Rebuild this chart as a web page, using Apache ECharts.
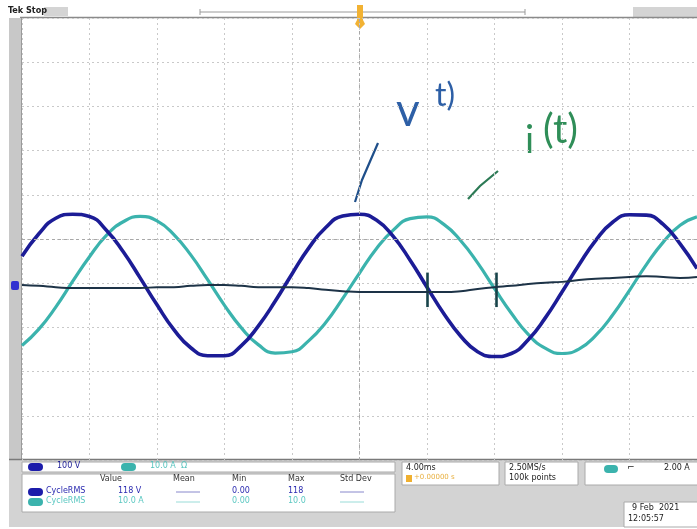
<!DOCTYPE html>
<html>
<head>
<meta charset="utf-8">
<script src="https://cdn.jsdelivr.net/npm/echarts@6/dist/echarts.min.js"></script>
<style>
  html, body { margin: 0; padding: 0; background: #fff; }
  #chart { width: 697px; height: 529px; }
</style>
</head>
<body>
<div id="chart"></div>
<script>
// 时间轴 (ms), 4.00 ms/div, 10 格
const timeMs = [-20,-19,-18,-17,-16,-15,-14,-13,-12,-11,-10,-9,-8,-7,-6,-5,-4,-3,-2,-1,0,
  1,2,3,4,5,6,7,8,9,10,11,12,13,14,15,16,17,18,19,20];
// 通道1 电压 (V), 100 V/div
const voltage = [65,116,151,160,155,124,75,16,-45,-101,-142,-160,-160,-137,-93,-37,25,84,130,156,160,
  147,110,56,-5,-65,-116,-151,-162,-155,-124,-75,-16,45,101,142,159,158,137,93,37];
// 通道2 电流 (A), 10.0 A/div
const current = [-13.7,-10.0,-5.0,0.8,6.4,11.2,14.3,15.5,14.5,11.4,6.8,1.2,-4.6,-9.7,-13.5,-15.4,-15.1,-12.6,-8.5,-3.1,2.7,
  8.2,12.4,15.0,15.4,13.7,10.0,5.0,-0.8,-6.4,-11.2,-14.3,-15.5,-14.5,-11.4,-6.8,-1.2,4.6,9.7,13.5,15.4];
// 深色参考线 (div)
const refTrace = [0,-0.02,-0.05,-0.07,-0.07,-0.07,-0.07,-0.07,-0.05,-0.05,-0.02,0,0,-0.02,-0.05,-0.05,-0.05,-0.07,-0.11,-0.14,-0.16,
  -0.16,-0.16,-0.16,-0.16,-0.16,-0.14,-0.09,-0.05,-0.02,0.02,0.05,0.07,0.11,0.14,0.16,0.18,0.2,0.18,0.16,0.18];
// 手写标记的位置 (ms)
const markTimes = [4.0, 8.1];

const voltsPerDiv = 100;
const ampsPerDiv = 10;
const zeroOffset = -1.04; // 通道零点相对中心 (div)

const toDiv = (arr, scale) => arr.map((v, i) => [timeMs[i], v / scale + zeroOffset]);

const chart = echarts.init(document.getElementById('chart'));

const gridLine = { show: true, lineStyle: { color: '#c9c9c9', type: [2, 3], width: 1 } };
const small = '8px "DejaVu Sans", sans-serif';
const hand = '{size}px Lato, "Open Sans", sans-serif';

const option = {
  backgroundColor: '#ffffff',
  animation: false,
  grid: { left: 22, right: -5, top: 18, bottom: 69 },
  xAxis: {
    type: 'value', min: -20, max: 20, interval: 4,
    axisLabel: { show: false }, axisTick: { show: false },
    axisLine: { show: false },
    splitLine: gridLine
  },
  yAxis: {
    type: 'value', min: -5, max: 5, interval: 1,
    axisLabel: { show: false }, axisTick: { show: false },
    axisLine: { show: false },
    splitLine: gridLine
  },
  series: [
    {
      // 中心十字线
      type: 'line', data: [], silent: true,
      markLine: {
        symbol: 'none', silent: true, label: { show: false },
        lineStyle: { color: '#a8a8a8', type: [3, 3], width: 1 },
        data: [{ xAxis: 0 }, { yAxis: 0 }]
      }
    },
    {
      name: 'i(t)', type: 'line', smooth: 0.5, showSymbol: false,
      data: toDiv(current, ampsPerDiv),
      lineStyle: { color: '#3bb3ad', width: 3.2 }, z: 3
    },
    {
      name: 'v(t)', type: 'line', smooth: 0.5, showSymbol: false,
      data: toDiv(voltage, voltsPerDiv),
      lineStyle: { color: '#1c1c96', width: 3.6 }, z: 4
    },
    {
      name: 'ref', type: 'line', smooth: 0.5, showSymbol: false,
      data: refTrace.map((v, i) => [timeMs[i], v + zeroOffset]),
      lineStyle: { color: '#1d3347', width: 2 }, z: 5,
      markLine: {
        symbol: 'none', silent: true, label: { show: false },
        lineStyle: { color: '#17434a', type: 'solid', width: 2.6 },
        data: markTimes.map(t => [
          { coord: [t, zeroOffset + 0.28] },
          { coord: [t, zeroOffset - 0.5] }
        ])
      }
    }
  ],
  graphic: [
    // 上方状态栏
    { type: 'rect', shape: { x: 44, y: 7, width: 24, height: 9 }, style: { fill: '#d4d4d4' } },
    { type: 'text', left: 8, top: 6, style: { text: 'Tek Stop', font: 'bold 9px "DejaVu Sans Condensed", sans-serif', fill: '#222' } },
    { type: 'rect', shape: { x: 633, y: 7, width: 64, height: 10 }, style: { fill: '#d4d4d4' } },
    { type: 'line', shape: { x1: 20, y1: 17.5, x2: 697, y2: 17.5 }, style: { stroke: '#8a8a8a', lineWidth: 1.5 } },
    { type: 'line', shape: { x1: 200, y1: 12, x2: 525, y2: 12 }, style: { stroke: '#9a9a9a', lineWidth: 1 } },
    { type: 'line', shape: { x1: 200, y1: 9, x2: 200, y2: 15 }, style: { stroke: '#9a9a9a', lineWidth: 1 } },
    { type: 'line', shape: { x1: 525, y1: 9, x2: 525, y2: 15 }, style: { stroke: '#9a9a9a', lineWidth: 1 } },
    { type: 'polygon', shape: { points: [[357, 5], [363, 5], [363, 20], [365, 24], [360, 29], [355, 24], [357, 20]] }, style: { fill: '#f2b233' } },
    // 左侧灰条
    { type: 'rect', shape: { x: 9, y: 18, width: 12, height: 442 }, style: { fill: '#c8c8c8' } },
    { type: 'rect', shape: { x: 11, y: 281, width: 8, height: 9, r: 2 }, style: { fill: '#3030d0' } },
    { type: 'line', shape: { x1: 21.5, y1: 18, x2: 21.5, y2: 460 }, style: { stroke: '#9a9a9a', lineWidth: 1 } },
    // 手写注释
    { type: 'polyline', shape: { points: [[355, 202], [362, 180], [378, 143]] }, style: { stroke: '#1f4f8a', lineWidth: 2.2, fill: null } },
    { type: 'text', left: 396, top: 88, style: { text: 'v', font: hand.replace('{size}', 46), fill: '#2d5fa6' } },
    { type: 'text', left: 435, top: 80, style: { text: 't)', font: hand.replace('{size}', 32), fill: '#2d5fa6' } },
    { type: 'polyline', shape: { points: [[468, 199], [480, 186], [498, 171]] }, style: { stroke: '#2c7a55', lineWidth: 2.2, fill: null } },
    { type: 'text', left: 525, top: 122, style: { text: 'i', font: hand.replace('{size}', 38), fill: '#2f8e58' } },
    { type: 'text', left: 543, top: 110, style: { text: '(t)', font: hand.replace('{size}', 40), fill: '#2f8e58' } },
    // 底部面板
    { type: 'rect', shape: { x: 9, y: 460, width: 688, height: 67 }, style: { fill: '#d3d3d3' } },
    { type: 'line', shape: { x1: 9, y1: 459.5, x2: 697, y2: 459.5 }, style: { stroke: '#7a7a7a', lineWidth: 1.5 } },
    { type: 'rect', shape: { x: 22, y: 462, width: 373, height: 10 }, style: { fill: '#fff', stroke: '#aaa' } },
    { type: 'rect', shape: { x: 28, y: 463, width: 15, height: 8, r: 4 }, style: { fill: '#1c1caa' } },
    { type: 'text', left: 57, top: 462, style: { text: '100 V', font: small, fill: '#1c1c96' } },
    { type: 'rect', shape: { x: 121, y: 463, width: 15, height: 8, r: 4 }, style: { fill: '#3bb3ad' } },
    { type: 'text', left: 150, top: 462, style: { text: '10.0 A  Ω', font: small, fill: '#57c4be' } },
    { type: 'rect', shape: { x: 22, y: 474, width: 373, height: 38 }, style: { fill: '#fff', stroke: '#aaa' } },
    { type: 'text', left: 100, top: 475, style: { text: 'Value', font: small, fill: '#333' } },
    { type: 'text', left: 173, top: 475, style: { text: 'Mean', font: small, fill: '#333' } },
    { type: 'text', left: 232, top: 475, style: { text: 'Min', font: small, fill: '#333' } },
    { type: 'text', left: 288, top: 475, style: { text: 'Max', font: small, fill: '#333' } },
    { type: 'text', left: 340, top: 475, style: { text: 'Std Dev', font: small, fill: '#333' } },
    { type: 'rect', shape: { x: 28, y: 488, width: 15, height: 8, r: 4 }, style: { fill: '#1c1caa' } },
    { type: 'text', left: 46, top: 487, style: { text: 'CycleRMS', font: small, fill: '#2a2ab0' } },
    { type: 'text', left: 118, top: 487, style: { text: '118 V', font: small, fill: '#2a2ab0' } },
    { type: 'text', left: 232, top: 487, style: { text: '0.00', font: small, fill: '#2a2ab0' } },
    { type: 'text', left: 288, top: 487, style: { text: '118', font: small, fill: '#2a2ab0' } },
    { type: 'line', shape: { x1: 176, y1: 492, x2: 200, y2: 492 }, style: { stroke: '#8888cc', lineWidth: 1 } },
    { type: 'line', shape: { x1: 340, y1: 492, x2: 364, y2: 492 }, style: { stroke: '#8888cc', lineWidth: 1 } },
    { type: 'rect', shape: { x: 28, y: 498, width: 15, height: 8, r: 4 }, style: { fill: '#3bb3ad' } },
    { type: 'text', left: 46, top: 497, style: { text: 'CycleRMS', font: small, fill: '#5cc8c2' } },
    { type: 'text', left: 118, top: 497, style: { text: '10.0 A', font: small, fill: '#5cc8c2' } },
    { type: 'text', left: 232, top: 497, style: { text: '0.00', font: small, fill: '#5cc8c2' } },
    { type: 'text', left: 288, top: 497, style: { text: '10.0', font: small, fill: '#5cc8c2' } },
    { type: 'line', shape: { x1: 176, y1: 502, x2: 200, y2: 502 }, style: { stroke: '#99dcd8', lineWidth: 1 } },
    { type: 'line', shape: { x1: 340, y1: 502, x2: 364, y2: 502 }, style: { stroke: '#99dcd8', lineWidth: 1 } },
    // 时基 / 采样 / 触发
    { type: 'rect', shape: { x: 402, y: 462, width: 97, height: 23 }, style: { fill: '#fff', stroke: '#aaa' } },
    { type: 'text', left: 406, top: 464, style: { text: '4.00ms', font: small, fill: '#222' } },
    { type: 'rect', shape: { x: 406, y: 475, width: 6, height: 7 }, style: { fill: '#f0b030' } },
    { type: 'text', left: 414, top: 474, style: { text: '+0.00000 s', font: '7px "DejaVu Sans", sans-serif', fill: '#e8b040' } },
    { type: 'rect', shape: { x: 505, y: 462, width: 73, height: 23 }, style: { fill: '#fff', stroke: '#aaa' } },
    { type: 'text', left: 509, top: 464, style: { text: '2.50MS/s', font: small, fill: '#222' } },
    { type: 'text', left: 509, top: 474, style: { text: '100k points', font: small, fill: '#222' } },
    { type: 'rect', shape: { x: 585, y: 462, width: 115, height: 23 }, style: { fill: '#fff', stroke: '#aaa' } },
    { type: 'rect', shape: { x: 604, y: 465, width: 14, height: 8, r: 4 }, style: { fill: '#3bb3ad' } },
    { type: 'text', left: 627, top: 463, style: { text: '⌐', font: '9px "DejaVu Sans", sans-serif', fill: '#222' } },
    { type: 'text', left: 664, top: 464, style: { text: '2.00 A', font: small, fill: '#222' } },
    { type: 'rect', shape: { x: 624, y: 502, width: 76, height: 25 }, style: { fill: '#fff', stroke: '#aaa' } },
    { type: 'text', left: 632, top: 504, style: { text: '9 Feb  2021', font: small, fill: '#222' } },
    { type: 'text', left: 628, top: 515, style: { text: '12:05:57', font: small, fill: '#222' } }
  ]
};

chart.setOption(option);
</script>
</body>
</html>
